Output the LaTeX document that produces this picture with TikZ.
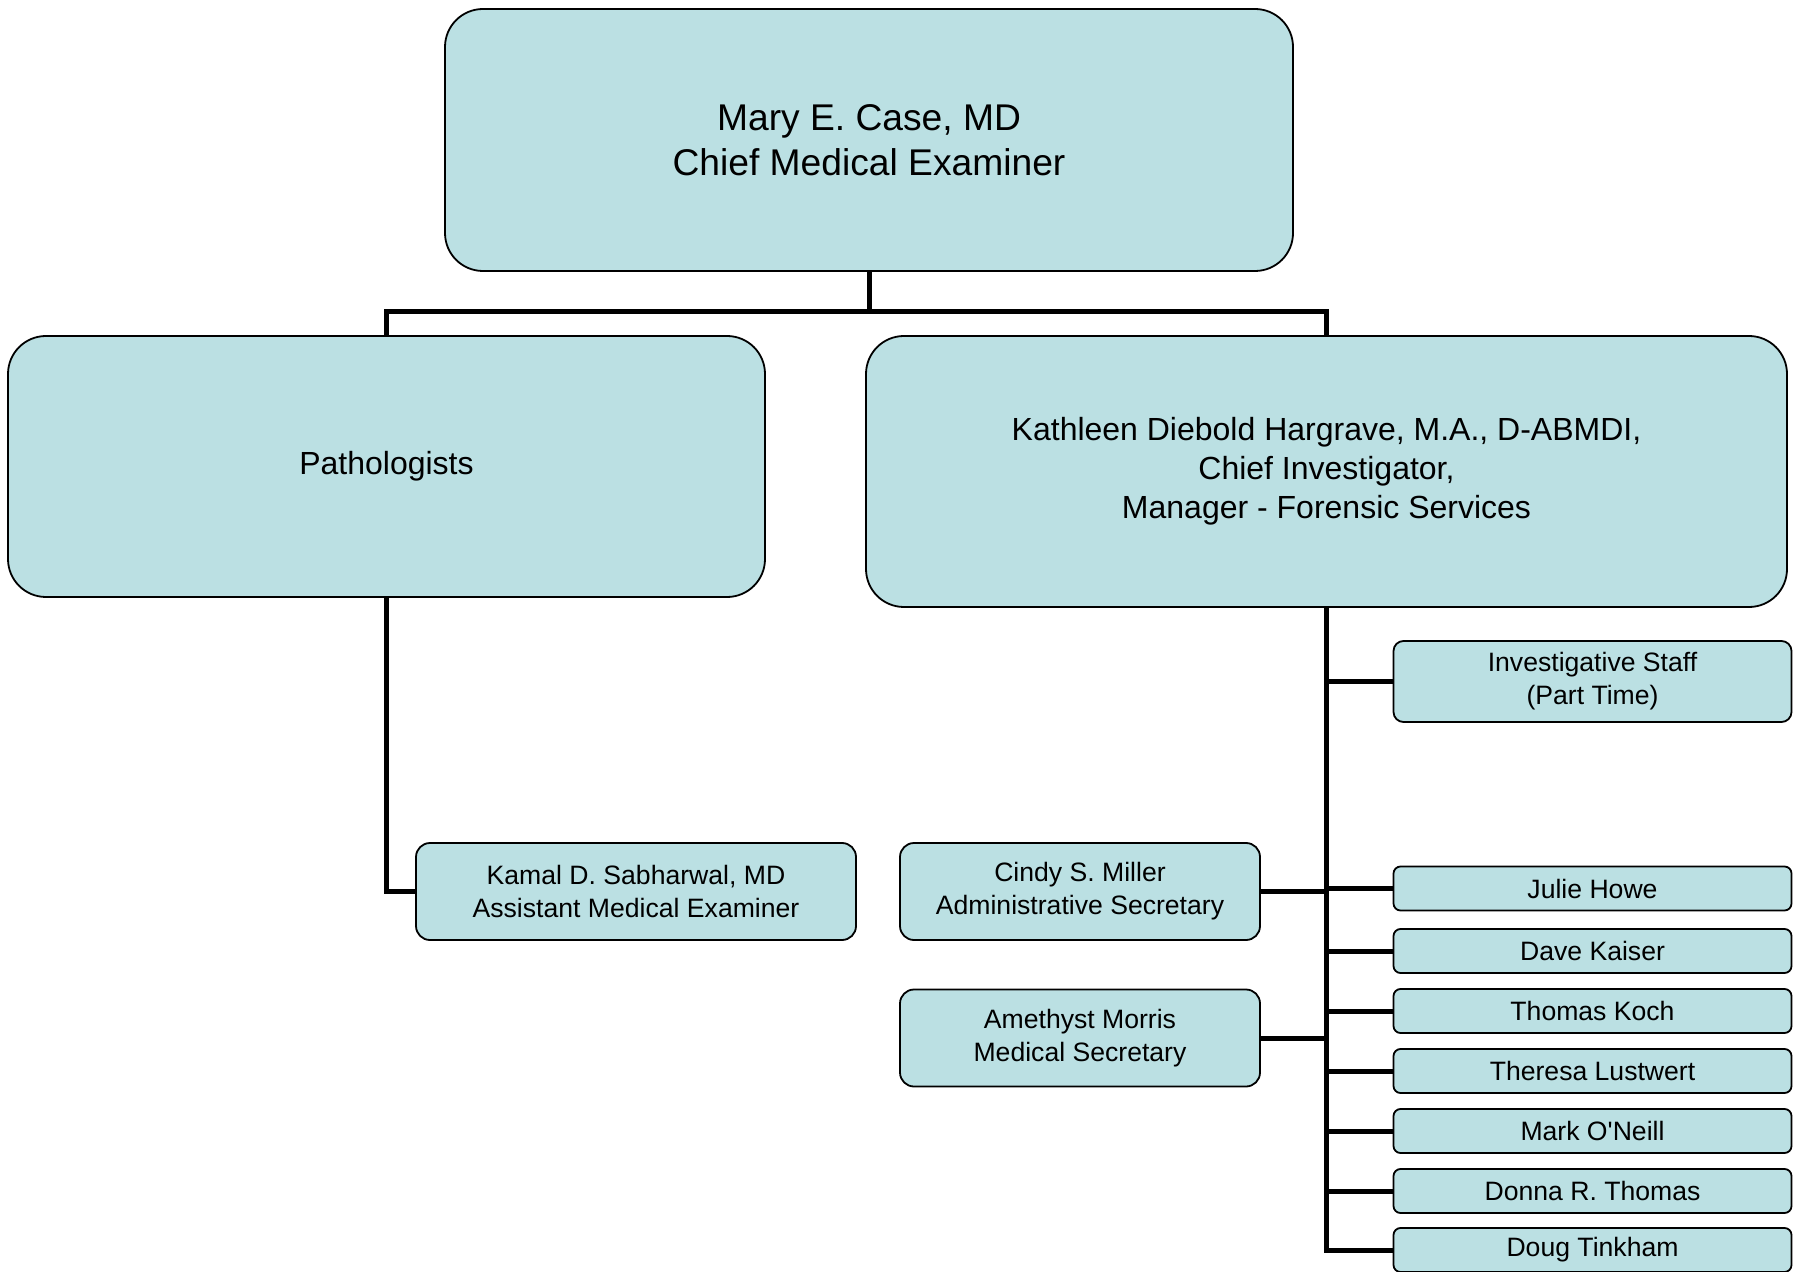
\documentclass[tikz,border=0pt]{standalone}
\usepackage{fontspec}
\setmainfont{Liberation Sans}
\definecolor{orgfill}{HTML}{BBE0E3}
\tikzstyle{unit}=[draw, line width=0.9pt, fill=orgfill, align=center, inner sep=2pt]
\tikzstyle{bigunit}=[unit, rounded corners=19pt, font=\fontsize{16}{19.5}\selectfont]
\tikzstyle{staff}=[unit, rounded corners=7pt, minimum width=180pt, minimum height=48.5pt, font=\fontsize{13.3}{16.6}\selectfont]
\tikzstyle{investigator}=[unit, rounded corners=3.5pt, minimum width=199pt, minimum height=22pt, font=\fontsize{13.3}{16.6}\selectfont]
\tikzstyle{link}=[line width=2.5pt]

\begin{document}
\begin{tikzpicture}[x=0.5pt, y=-0.5pt]
    \useasboundingbox (0,0) rectangle (1793,1272);
    \node [bigunit, minimum width=424pt, minimum height=131pt, font=\fontsize{18.6}{22.5}\selectfont] (cme) at (869,140) {Mary E. Case, MD\\Chief Medical Examiner};
    \node [bigunit, minimum width=378.5pt, minimum height=130.5pt] (path) at (386.5,466.5) {\strut Pathologists};
    \node [bigunit, minimum width=460.5pt, minimum height=135.5pt] (kdh) at (1326.5,471.5) {Kathleen Diebold Hargrave, M.A., D-ABMDI,\\Chief Investigator,\\Manager - Forensic Services};
    \node [staff, minimum width=220pt, rounded corners=7pt] (kamal) at (636,891.5) {Kamal D. Sabharwal, MD\\Assistant Medical Examiner};
    \node [staff] (cindy) at (1080,891.5) {Cindy S. Miller\\Administrative Secretary};
    \node [staff] (amethyst) at (1080,1038) {Amethyst Morris\\Medical Secretary};
    \node [investigator, rounded corners=5pt, minimum height=40.5pt] (parttime) at (1592.5,681.5) {Investigative Staff\\(Part Time)};
    \foreach \nm/\txt/\yy in {howe/Julie Howe/888.5, kaiser/Dave Kaiser/951, koch/Thomas Koch/1011, lustwert/Theresa Lustwert/1071, oneill/Mark O\textquotesingle Neill/1131, thomas/Donna R. Thomas/1191, tinkham/Doug Tinkham/1250}
        \node [investigator] (\nm) at (1592.5,\yy) {\txt};

    \coordinate (bus) at (869,312);
    \draw [link] (cme.south) -- (bus);
    \draw [link] (path.north) |- (bus) -| (kdh.north);
    \draw [link] (path.south) |- (kamal.west);
    \draw [link] (kdh.south) |- (tinkham.west);
    \foreach \nm in {parttime,howe,kaiser,koch,lustwert,oneill,thomas}
        \draw [link] (\nm.west) -- (\nm.west -| kdh.south);
    \draw [link] (cindy.east) -- (cindy.east -| kdh.south);
    \draw [link] (amethyst.east) -- (amethyst.east -| kdh.south);
\end{tikzpicture}
\end{document}
